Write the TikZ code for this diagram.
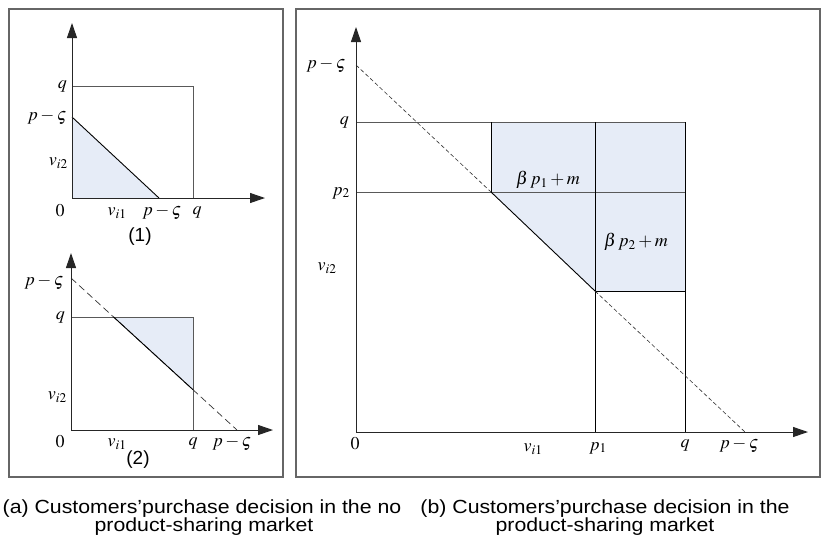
\documentclass[tikz,border=0pt]{standalone}
\usepackage{mathptmx}
\usepackage[no-math]{fontspec}
\newfontfamily\capfont[FakeStretch=1.12]{Liberation Sans}
\newfontfamily\numfont{Liberation Sans}
\usetikzlibrary{arrows.meta}
\definecolor{shade}{HTML}{E6ECF7}
\begin{document}
\begin{tikzpicture}[x=1pt,y=-1pt,
  frame/.style={draw=black!60, line width=1.1pt},
  axis/.style={draw=black!85, line width=1pt, -{Triangle[length=15pt,width=10pt]}},
  gridline/.style={draw=black!65, line width=1pt},
  edgeline/.style={draw=black, line width=0.9pt},
  dashlong/.style={draw=black!80, line width=0.7pt, dash pattern=on 7pt off 4pt},
  dashshort/.style={draw=black!80, line width=0.6pt, dash pattern=on 4pt off 2.5pt},
  region/.style={fill=shade},
  lab/.style={inner sep=0pt, font=\fontsize{18}{20}\selectfont},
  captext/.style={inner sep=0pt, anchor=base, font=\capfont\fontsize{19}{21}\selectfont},
  num/.style={inner sep=0pt, font=\numfont\fontsize{19}{21}\selectfont}]
\useasboundingbox (0,0) rectangle (821,542);
\fill[white] (0,0) rectangle (821,542);

% frames
\draw[frame] (9,9) rectangle (283,477);
\draw[frame] (296,9) rectangle (820,477);

% ---------- panel (1)
\coordinate (ao) at (72,198);
\coordinate (ay) at (72,23);
\coordinate (ax) at (265,198);
\coordinate (aqy) at (72,86);
\coordinate (aqq) at (193,86);
\coordinate (aqx) at (193,198);
\coordinate (apy) at (72,117);
\coordinate (apx) at (159,198);
\fill[region] (apy) -- (apx) -- (ao) -- cycle;
\draw[gridline] (aqy) -- (aqq) -- (aqx);
\draw[edgeline] (apy) -- (apx);
\draw[axis] (ao) -- (ay);
\draw[axis] (ao) -- (ax);
\node[lab, anchor=east] (la1) at (67,86) {$q$};
\node[lab, anchor=east] (la2) at (67,117) {$p-\varsigma$};
\node[lab, anchor=east] (la3) at (68,163) {$v_{i2}$};
\node[lab] (la4) at (60,211) {$0$};
\node[lab] (la5) at (117,213) {$v_{i1}$};
\node[lab] (la6) at (162,212) {$p-\varsigma$};
\node[lab] (la7) at (197,212) {$q$};
\node[num] (la8) at (140,237) {(1)};

% ---------- panel (2)
\coordinate (bo) at (71,430);
\coordinate (by) at (71,253);
\coordinate (bx) at (273,430);
\coordinate (bqy) at (71,317);
\coordinate (bqq) at (193,317);
\coordinate (bqx) at (193,430);
\coordinate (bpy) at (71,278);
\coordinate (bpx) at (237,430);
\coordinate (bs1) at (113.6,317);
\coordinate (bs2) at (193,389.7);
\fill[region] (bs1) -- (bqq) -- (bs2) -- cycle;
\draw[gridline] (bqy) -- (bqq) -- (bqx);
\draw[dashlong] (bpy) -- (bpx);
\draw[edgeline] (bs1) -- (bs2);
\draw[axis] (bo) -- (by);
\draw[axis] (bo) -- (bx);
\node[lab, anchor=east] (lb1) at (64,282) {$p-\varsigma$};
\node[lab, anchor=east] (lb2) at (65,317) {$q$};
\node[lab, anchor=east] (lb3) at (67,397) {$v_{i2}$};
\node[lab] (lb4) at (60,442) {$0$};
\node[lab] (lb5) at (117,444) {$v_{i1}$};
\node[lab] (lb6) at (193,443) {$q$};
\node[lab] (lb7) at (232,443) {$p-\varsigma$};
\node[num] (lb8) at (138,460) {(2)};

% ---------- panel (b)
\coordinate (co) at (356,432);
\coordinate (cy) at (356,27);
\coordinate (cx) at (808,432);
\coordinate (cqy) at (356,122);
\coordinate (cpy) at (356,65);
\coordinate (cp2) at (356,192);
\coordinate (cA) at (491,122);
\coordinate (cB) at (491,192);
\coordinate (cC) at (595,122);
\coordinate (cE) at (595,291);
\coordinate (cF) at (685,122);
\coordinate (cG) at (685,192);
\coordinate (cH) at (685,291);
\coordinate (cp1) at (595,432);
\coordinate (cqx) at (685,432);
\coordinate (cpx) at (745,432);
\fill[region] (cA) -- (cF) -- (cH) -- (cE) -- (cB) -- cycle;
\draw[gridline] (cqy) -- (cF);
\draw[gridline] (cp2) -- (cG);
\draw[edgeline] (cA) -- (cB);
\draw[edgeline] (cC) -- (cp1);
\draw[edgeline] (cF) -- (cqx);
\draw[edgeline] (cE) -- (cH);
\draw[edgeline] (cB) -- (cE);
\draw[dashshort] (cpy) -- (cB);
\draw[dashshort] (cE) -- (cpx);
\draw[axis] (co) -- (cy);
\draw[axis] (co) -- (cx);
\node[lab, anchor=east] (lc1) at (346,65) {$p-\varsigma$};
\node[lab, anchor=east] (lc2) at (349,122) {$q$};
\node[lab, anchor=east] (lc3) at (350,193) {$p_2$};
\node[lab] (lc4) at (327,268) {$v_{i2}$};
\node[lab] (lc5) at (355,444) {$0$};
\node[lab] (lc6) at (533,449) {$v_{i1}$};
\node[lab] (lc7) at (598,448) {$p_1$};
\node[lab] (lc8) at (685,445) {$q$};
\node[lab] (lc9) at (739,445) {$p-\varsigma$};
\node[lab] (lc10) at (548,180) {$\beta\,p_1+m$};
\node[lab] (lc11) at (636,242) {$\beta\,p_2+m$};

% ---------- captions
\node[captext] (cap1) at (202,513) {(a) Customers’purchase decision in the no};
\node[captext] (cap2) at (204,531) {product-sharing market};
\node[captext] (cap3) at (605,513) {(b) Customers’purchase decision in the};
\node[captext] (cap4) at (605,531) {product-sharing market};
\end{tikzpicture}
\end{document}
